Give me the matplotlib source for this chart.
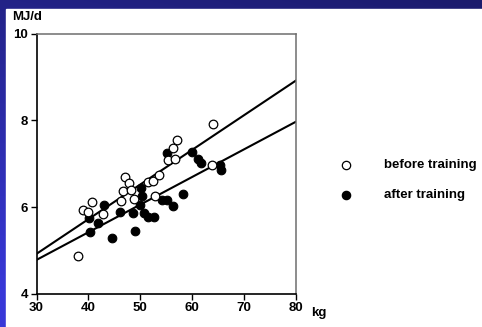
import numpy as np
import matplotlib
matplotlib.use("Agg")
import matplotlib.pyplot as plt
from matplotlib.lines import Line2D
from matplotlib.patches import Rectangle

plt.rcParams['font.family'] = ['Liberation Sans', 'DejaVu Sans']
plt.rcParams['font.weight'] = 'bold'

# Body mass (kg) and energy expenditure (MJ/d)
before_kg = [38.0, 39.0, 40.7, 40.0, 42.8, 46.3, 46.7, 47.1, 47.9, 48.2, 48.8,
             51.5, 52.4, 53.6, 52.8, 55.3, 56.3, 57.0, 56.7, 64.0, 63.8]
before_mj = [4.87, 5.93, 6.11, 5.88, 5.84, 6.13, 6.36, 6.69, 6.55, 6.39, 6.18,
             6.57, 6.60, 6.74, 6.25, 7.08, 7.36, 7.55, 7.11, 7.92, 6.97]

after_kg = [40.1, 40.3, 41.9, 43.0, 44.5, 46.1, 48.6, 49.0, 49.9, 50.1, 50.3,
            50.7, 51.5, 52.6, 54.2, 55.1, 56.3, 55.1, 58.2, 59.9, 61.1, 61.7,
            65.4, 65.5]
after_mj = [5.75, 5.42, 5.63, 6.05, 5.29, 5.89, 5.86, 5.45, 6.05, 6.44, 6.25,
            5.86, 5.77, 5.77, 6.16, 6.16, 6.02, 7.25, 6.30, 7.27, 7.12, 7.02,
            6.97, 6.86]

# Regression lines: (intercept, slope)
before_fit = (2.52, 0.080)
after_fit = (2.866, 0.0638)

x_ticks = [30, 40, 50, 60, 70, 80]
y_ticks = [4, 6, 8, 10]

W, H = 482, 327
fig = plt.figure(figsize=(W / 100, H / 100), dpi=100)

# slide background: blue gradient with a white panel
bg = fig.add_axes([0, 0, 1, 1], zorder=-10)
yy, xx = np.mgrid[0:1:200j, 0:1:200j]
t = np.clip(0.85 * yy + 0.25 * (1 - xx), 0, 1)
top = np.array([0x1b, 0x1b, 0x6c]) / 255
bot = np.array([0x38, 0x38, 0xd8]) / 255
img = top[None, None, :] * (1 - t[..., None]) + bot[None, None, :] * t[..., None]
bg.imshow(img, extent=[0, 1, 0, 1], aspect='auto', origin='upper')
bg.add_patch(Rectangle((6 / W, 0), 1 - 6 / W, 1 - 9 / H, color='white'))
bg.set_xlim(0, 1)
bg.set_ylim(0, 1)
bg.axis('off')

ax = fig.add_axes([36.5 / W, 1 - 293.7 / H, (296 - 36.5) / W, (293.7 - 33.7) / H])
ax.set_facecolor('none')

xs = np.array([30, 80])
for b0, b1 in (before_fit, after_fit):
    ax.plot(xs, b0 + b1 * xs, color='black', lw=1.5, zorder=2)

ax.plot(after_kg, after_mj, 'o', ms=6.2, mfc='black', mec='black', mew=0.8,
        zorder=3, clip_on=False)
ax.plot(before_kg, before_mj, 'o', ms=6.2, mfc='white', mec='black', mew=0.9,
        zorder=4, clip_on=False)

ax.set_xlim(30, 80)
ax.set_ylim(4, 10)
ax.set_xticks(x_ticks)
ax.set_yticks(y_ticks)
ax.tick_params(direction='out', length=4, width=1, labelsize=9.5, pad=2,
               colors='black')
for s in ('left', 'bottom'):
    ax.spines[s].set_linewidth(1.2)
    ax.spines[s].set_color('black')
for s in ('top', 'right'):
    ax.spines[s].set_linewidth(1.1)
    ax.spines[s].set_color('#6e6e6e')

def px(x, y):
    return x / W, 1 - y / H

fig.text(*px(12, 17), 'MJ/d', fontsize=9.5, fontweight='bold', va='center', ha='left')
fig.text(*px(311, 313), 'kg', fontsize=9.5, fontweight='bold', va='center', ha='left')

# key
for (mx, my), fc, label in (((346, 165), 'white', 'before training'),
                            ((346, 195), 'black', 'after training')):
    fig.add_artist(Line2D([mx / W], [1 - my / H], transform=fig.transFigure,
                          marker='o', ms=6.0, mfc=fc, mec='black', mew=0.9, ls='none'))
    fig.text(*px(384, my), label, fontsize=9.5, fontweight='bold', va='center', ha='left')

fig.savefig('out.png', dpi=100)
